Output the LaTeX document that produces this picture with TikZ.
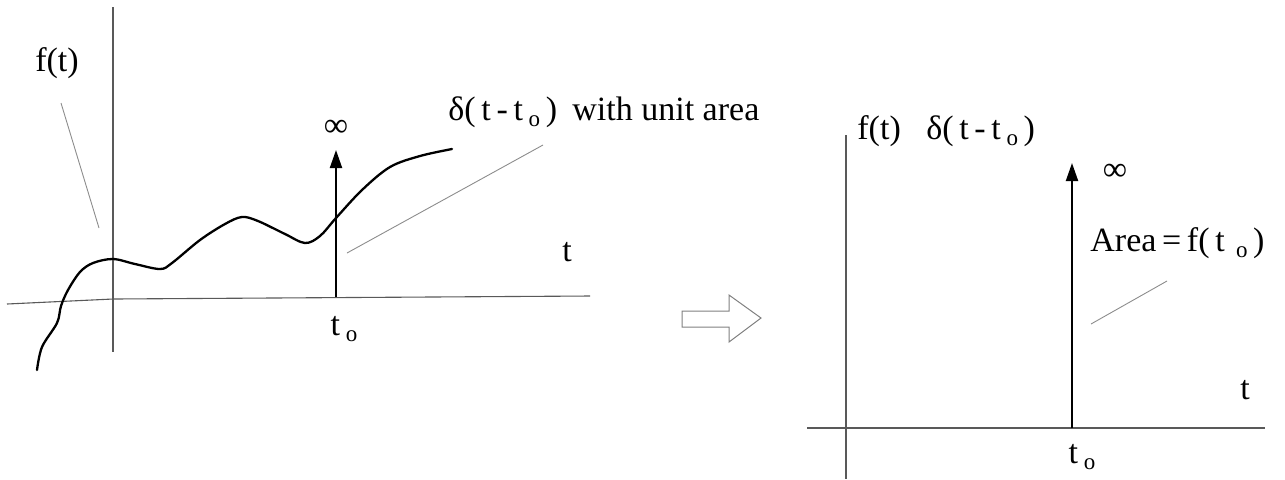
\documentclass[tikz,border=0pt]{standalone}
\usepackage{fontspec}
\setmainfont{Liberation Serif}
\usetikzlibrary{arrows.meta}
\newcommand{\subo}{\raisebox{-0.4ex}{\fontsize{11.5}{12}\selectfont o}}
\tikzset{
  axis/.style={line width=0.55pt, draw=black!65},
  leader/.style={line width=0.45pt, draw=black!45},
  curve/.style={line width=1.15pt, line cap=round, line join=round},
  impulse/.style={line width=1.0pt, -{Triangle[length=9pt,width=6pt]}},
  lbl/.style={inner sep=0pt, font=\fontsize{17}{20}\selectfont},
  hollow/.style={line width=0.5pt, draw=black!50}
}
\begin{document}
\begin{tikzpicture}[x=0.5pt,y=-0.5pt]
\useasboundingbox (0,0) rectangle (1285,479);

% ---------- left panel ----------
\draw[axis] (113,7) -- (113,352);
\draw[axis] (7,304) -- (113,299) -- (590,296);

\draw[curve] plot[smooth, tension=0.55] coordinates {
  (37,370) (42,347) (57,323) (61,306) (68,290) (80,272) (93,263) (113,259)
  (135,264) (160,269) (172,263) (200,240) (225,224) (242,217) (258,221)
  (285,234) (305,243) (320,236) (336,218) (362,190) (390,167) (420,156) (452,149)};

\coordinate (b1) at (336,297);
\coordinate (t1) at (336,150);
\draw[impulse] (b1) -- (t1);
\node[lbl] (inf1) at (336,128) {∞};
\node[lbl] (to1) at (344,329) {t\,\subo};
\node[lbl] (tl) at (567,252) {t};

\node[lbl] (ft) at (57,63) {f(t)};
\coordinate (ftend) at (99,228);
\coordinate (ftstart) at (61,103);
\draw[leader] (ftstart) -- (ftend);

\node[lbl, anchor=west] (dl) at (448,112) {δ(\,t\,-\,t\,\subo\,)\hspace{0.45em}with unit area};
\coordinate (dlA) at (543,145);
\coordinate (dlB) at (347,253);
\draw[leader] (dlA) -- (dlB);

% ---------- hollow arrow ----------
\draw[hollow] (682,311) -- (729,311) -- (729,295) -- (761,318) -- (729,342)
  -- (729,327) -- (682,327) -- cycle;

% ---------- right panel ----------
\draw[axis] (846,135) -- (846,479);
\draw[axis] (807,428) -- (1265,428);

\coordinate (b2) at (1072,428);
\coordinate (t2) at (1072,163);
\draw[impulse] (b2) -- (t2);
\node[lbl] (inf2) at (1115,172) {∞};
\node[lbl, anchor=west] (fd) at (857,131) {f(t)\hspace{0.75em}δ(\,t\,-\,t\,\subo\,)};
\node[lbl, anchor=west] (area) at (1090,243) {Area\,=\,f(\,t\,\,\subo\,)};
\node[lbl] (tr) at (1245,390) {t};
\node[lbl] (to2) at (1082,457) {t\,\subo};
\coordinate (arA) at (1167,281);
\coordinate (arB) at (1091,324);
\draw[leader] (arA) -- (arB);
\end{tikzpicture}
\end{document}
